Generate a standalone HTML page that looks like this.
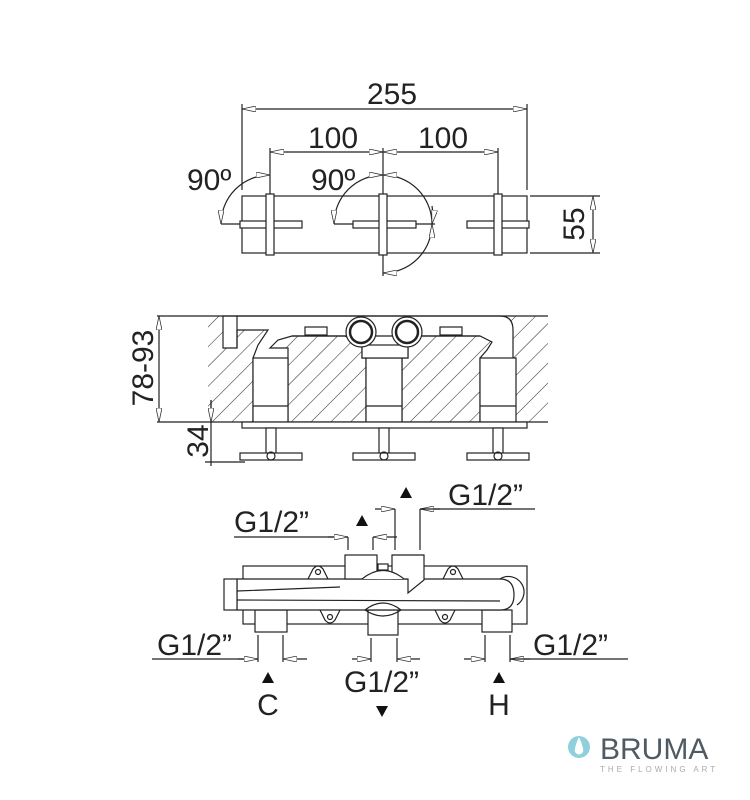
<!DOCTYPE html>
<html><head><meta charset="utf-8"><style>
html,body{margin:0;padding:0;background:#fff}
svg{display:block}
text{font-family:"Liberation Sans","DejaVu Sans",sans-serif;fill:#222}
</style></head><body>
<svg width="750" height="800" viewBox="0 0 750 800" xmlns="http://www.w3.org/2000/svg">
<defs>
<pattern id="h" width="14" height="14" patternUnits="userSpaceOnUse" patternTransform="rotate(45)">
<line x1="0" y1="0" x2="0" y2="14" stroke="#333" stroke-width="1.1"/>
</pattern>
<marker id="a" viewBox="0 0 14 6" refX="14" refY="3" markerWidth="14" markerHeight="6" orient="auto-start-reverse" markerUnits="userSpaceOnUse">
<path d="M0,0 L14,3 L0,6 Z" fill="#fff" stroke="#333" stroke-width="0.8"/>
</marker>
</defs>
<g stroke="#222" stroke-width="1.2" fill="none">
<!-- TOP VIEW -->
<line x1="242" y1="104" x2="242" y2="190"/>
<line x1="527" y1="104" x2="527" y2="190"/>
<line x1="242" y1="109" x2="527" y2="109" marker-start="url(#a)" marker-end="url(#a)"/>
<line x1="270" y1="148" x2="270" y2="194"/>
<line x1="498" y1="148" x2="498" y2="194"/>
<line x1="383" y1="148" x2="383" y2="276"/>
<line x1="270" y1="152" x2="383" y2="152" marker-start="url(#a)" marker-end="url(#a)"/>
<line x1="383" y1="152" x2="498" y2="152" marker-start="url(#a)" marker-end="url(#a)"/>
<rect x="242" y="196" width="285" height="57"/>
<g fill="#fff">
<rect x="240" y="221" width="62" height="7"/><rect x="266" y="194" width="8" height="61"/>
<rect x="353" y="221" width="63" height="7"/><rect x="379" y="194" width="8" height="61"/>
<rect x="467" y="221" width="62" height="7"/><rect x="494" y="194" width="8" height="61"/>
</g>
<path d="M270,175 A49,49 0 0 0 221,224" marker-start="url(#a)" marker-end="url(#a)"/>
<line x1="221" y1="224" x2="240" y2="224"/>
<path d="M383,175 A49,49 0 0 0 334,224" marker-start="url(#a)" marker-end="url(#a)"/>
<line x1="334" y1="224" x2="353" y2="224"/>
<path d="M383,175 A49,49 0 0 1 432,224" marker-start="url(#a)"/>
<path d="M432,206 A49,49 0 0 1 432,224" marker-end="url(#a)"/>
<path d="M432,224 A49,49 0 0 1 383,273" marker-start="url(#a)" marker-end="url(#a)"/>
<line x1="416" y1="224" x2="435" y2="224"/>
<line x1="530" y1="196" x2="600" y2="196"/>
<line x1="530" y1="253" x2="600" y2="253"/>
<line x1="593" y1="196" x2="593" y2="253" marker-start="url(#a)" marker-end="url(#a)"/>

<!-- MIDDLE VIEW -->
<rect x="208" y="316" width="340" height="106" fill="url(#h)" stroke="none"/>
<path d="M223,316 L500,316 Q513,316 513,330 L513,422 L480,422 L480,358 L487,350 L492,342 L480,336 L420,336 L408,346 L408,358 L402,358 L402,422 L366,422 L366,358 L362,358 L362,346 L345,336 L292,336 L278,340 L270,348 L288,348 L288,422 L253,422 L253,358 L258,345 L268,330 L237,330 L237,348 L223,348 Z" fill="#fff"/>
<line x1="157" y1="316" x2="548" y2="316"/>
<line x1="157" y1="422" x2="548" y2="422"/>
<line x1="237" y1="316" x2="237" y2="348"/>
<rect x="253" y="358" width="35" height="64" fill="#fff"/>
<line x1="253" y1="406" x2="288" y2="406"/>
<rect x="366" y="358" width="36" height="64" fill="#fff"/>
<line x1="366" y1="406" x2="402" y2="406"/>
<rect x="480" y="358" width="36" height="64" fill="#fff"/>
<line x1="480" y1="406" x2="516" y2="406"/>
<rect x="362" y="345" width="46" height="13" fill="#fff"/>
<line x1="292" y1="336" x2="480" y2="336"/>
<rect x="305" y="327" width="22" height="8" fill="#fff"/>
<rect x="440" y="327" width="22" height="8" fill="#fff"/>
<circle cx="361" cy="332" r="15" fill="#fff"/><circle cx="361" cy="332" r="11" stroke-width="2.5"/>
<circle cx="407" cy="332" r="15" fill="#fff"/><circle cx="407" cy="332" r="11" stroke-width="2.5"/>
<rect x="242" y="422" width="285" height="6" fill="#fff"/>
<rect x="266" y="428" width="10" height="26" fill="#fff"/>
<rect x="379" y="428" width="10" height="26" fill="#fff"/>
<rect x="493" y="428" width="10" height="26" fill="#fff"/>
<rect x="240" y="453" width="62" height="7" fill="#fff"/>
<rect x="353" y="453" width="62" height="7" fill="#fff"/>
<rect x="467" y="453" width="62" height="7" fill="#fff"/>
<circle cx="271" cy="456" r="4"/><circle cx="384" cy="456" r="4"/><circle cx="498" cy="456" r="4"/>
<line x1="159" y1="316" x2="159" y2="422" marker-start="url(#a)" marker-end="url(#a)"/>
<line x1="211" y1="400" x2="211" y2="466"/>
<line x1="211" y1="400" x2="211" y2="422" marker-end="url(#a)"/>
<line x1="205" y1="462" x2="245" y2="462"/>

<!-- BOTTOM VIEW -->
<rect x="243" y="566" width="284" height="58" fill="#fff"/>
<rect x="255" y="610" width="32" height="22" fill="#fff"/>
<rect x="368" y="610" width="30" height="25" fill="#fff"/>
<rect x="482" y="610" width="30" height="22" fill="#fff"/>
<path d="M237,579 L500,579 Q514,579 514,595 Q514,610 500,610 L237,610 Z" fill="#fff"/>
<path d="M237,591 L340,587 M237,600 L500,601" />
<path d="M500,579 A14,14 0 0 1 517,605"/>
<rect x="224" y="579" width="13" height="31" fill="#fff"/>
<rect x="345" y="555" width="32" height="24" fill="#fff"/>
<path d="M392,555 L424,555 L424,580 L408,593 L408,579 L392,579 Z" fill="#fff"/>
<path d="M362,579 Q383,562 404,579" fill="#fff"/>
<rect x="378" y="564" width="10" height="6" fill="#fff"/>
<path d="M365,610 Q383,596 401,610 M365,610 Q383,622 401,610"/>
<path d="M308,579 L313,569 Q318,563 323,569 L328,579"/><circle cx="318" cy="572" r="2.5"/>
<path d="M443,579 L448,569 Q453,563 458,569 L463,579"/><circle cx="453" cy="572" r="2.5"/>
<path d="M320,610 L325,620 Q330,626 335,620 L340,610"/><circle cx="330" cy="617" r="2.5"/>
<path d="M435,610 L440,620 Q445,626 450,620 L455,610"/><circle cx="445" cy="617" r="2.5"/>
<!-- dims -->
<line x1="395" y1="509" x2="395" y2="550"/><line x1="420" y1="509" x2="420" y2="550"/>
<line x1="375" y1="509" x2="395" y2="509" marker-end="url(#a)"/>
<line x1="440" y1="509" x2="420" y2="509" marker-end="url(#a)"/>
<line x1="420" y1="509" x2="535" y2="509"/>
<line x1="348" y1="537" x2="348" y2="550"/><line x1="373" y1="537" x2="373" y2="550"/>
<line x1="234" y1="537" x2="348" y2="537"/>
<line x1="328" y1="537" x2="348" y2="537" marker-end="url(#a)"/>
<line x1="397" y1="537" x2="373" y2="537" marker-end="url(#a)"/>
<line x1="258" y1="635" x2="258" y2="662"/><line x1="283" y1="635" x2="283" y2="662"/>
<line x1="152" y1="659" x2="258" y2="659"/>
<line x1="238" y1="659" x2="258" y2="659" marker-end="url(#a)"/>
<line x1="307" y1="659" x2="283" y2="659" marker-end="url(#a)"/>
<line x1="371" y1="638" x2="371" y2="662"/><line x1="397" y1="638" x2="397" y2="662"/>
<line x1="352" y1="659" x2="371" y2="659" marker-end="url(#a)"/>
<line x1="420" y1="659" x2="397" y2="659" marker-end="url(#a)"/>
<line x1="485" y1="635" x2="485" y2="662"/><line x1="510" y1="635" x2="510" y2="662"/>
<line x1="464" y1="659" x2="485" y2="659" marker-end="url(#a)"/>
<line x1="530" y1="659" x2="510" y2="659" marker-end="url(#a)"/>
<line x1="510" y1="659" x2="628" y2="659"/>
</g>
<g fill="#111">
<path d="M400,498 L406,487 L412,498 Z"/>
<path d="M356,526 L362,515 L368,526 Z"/>
<path d="M262,683 L268,672 L274,683 Z"/>
<path d="M493,683 L499,672 L505,683 Z"/>
<path d="M376,706 L388,706 L382,717 Z"/>
</g>
<g font-size="30">
<text x="392" y="104" text-anchor="middle">255</text>
<text x="333" y="148" text-anchor="middle">100</text>
<text x="443" y="148" text-anchor="middle">100</text>
<text x="187" y="190">90º</text>
<text x="311" y="190">90º</text>
<text transform="translate(584,224) rotate(-90)" text-anchor="middle">55</text>
<text transform="translate(153,368) rotate(-90)" text-anchor="middle">78-93</text>
<text transform="translate(208,441) rotate(-90)" text-anchor="middle">34</text>
<text x="448" y="505">G1/2”</text>
<text x="234" y="532">G1/2”</text>
<text x="157" y="655">G1/2”</text>
<text x="533" y="655">G1/2”</text>
<text x="344" y="692">G1/2”</text>
<text x="268" y="715" text-anchor="middle">C</text>
<text x="499" y="715" text-anchor="middle">H</text>
</g>
<circle cx="579" cy="747" r="11" fill="#8fd0dc"/>
<path d="M579,737 Q574,748 575,752 Q579,757 583,752 Q584,748 579,737 Z" fill="#fff"/>
<text x="600" y="759" font-size="30" style="fill:#4f5a63">BRUMA</text>
<text x="600" y="772" font-size="8" letter-spacing="3" style="fill:#aaa">THE FLOWING ART</text>
</svg>
</body></html>
